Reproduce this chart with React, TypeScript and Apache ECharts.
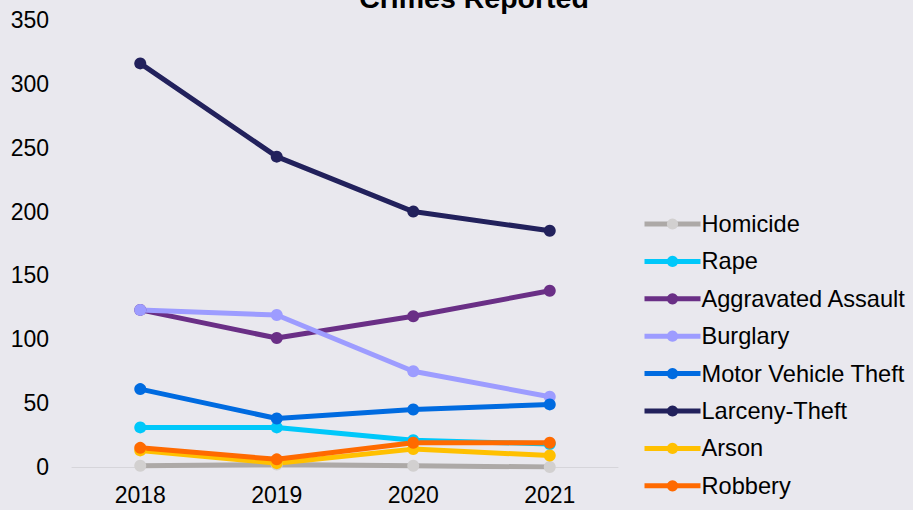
import React, { useEffect, useRef } from "react";
import * as echarts from "echarts";

const years = ["2018", "2019", "2020", "2021"];
const homicide = [1, 2, 1, 0];
const rape = [31, 31, 21, 18];
const aggravatedAssault = [123, 101, 118, 138];
const burglary = [123, 119, 75, 55];
const motorVehicleTheft = [61, 38, 45, 49];
const larcenyTheft = [316, 243, 200, 185];
const arson = [13, 3, 14, 9];
const robbery = [15, 6, 19, 19];

const FONT = "'Liberation Sans', Arial, sans-serif";

const seriesDefs = [
  { name: "Homicide", data: homicide, line: "#ADA9A7", dot: "#D2D0D0" },
  { name: "Rape", data: rape, line: "#00C8FA", dot: "#00C8FA" },
  { name: "Aggravated Assault", data: aggravatedAssault, line: "#6A2F86", dot: "#6A2F86" },
  { name: "Burglary", data: burglary, line: "#9D9CFF", dot: "#9D9CFF" },
  { name: "Motor Vehicle Theft", data: motorVehicleTheft, line: "#006BE0", dot: "#006BE0" },
  { name: "Larceny-Theft", data: larcenyTheft, line: "#22215C", dot: "#22215C" },
  { name: "Arson", data: arson, line: "#FFC000", dot: "#FFC000" },
  { name: "Robbery", data: robbery, line: "#FF6A00", dot: "#FF6A00" },
];

export default function App() {
  const ref = useRef<HTMLDivElement>(null);
  useEffect(() => {
    if (!ref.current) return;
    const chart = echarts.init(ref.current, undefined, { renderer: "svg" });
    chart.setOption({
      animation: false,
      backgroundColor: "#E9E8EE",
      textStyle: { fontFamily: FONT },
      graphic: [
        {
          type: "text",
          x: 474,
          y: -17,
          style: {
            text: "Crimes Reported",
            font: `bold 28.5px ${FONT}`,
            fill: "#000",
            textAlign: "center",
            textVerticalAlign: "top",
          },
        },
      ],
      grid: { left: 72, right: 295, top: 20, bottom: 43 },
      xAxis: {
        type: "category",
        data: years,
        boundaryGap: true,
        axisLine: { show: true, lineStyle: { color: "#D6D5DA", width: 1 } },
        axisTick: { show: false },
        axisLabel: { color: "#000", fontSize: 23, fontFamily: FONT, margin: 16 },
        splitLine: { show: false },
      },
      yAxis: {
        type: "value",
        min: 0,
        max: 350,
        interval: 50,
        axisLine: { show: false },
        axisTick: { show: false },
        splitLine: { show: false },
        axisLabel: { color: "#000", fontSize: 23, fontFamily: FONT, margin: 23 },
      },
      legend: {
        orient: "vertical",
        left: 642,
        top: 212,
        padding: 0,
        itemWidth: 56,
        itemHeight: 14,
        itemGap: 13.4,
        lineStyle: { width: 5 },
        textStyle: { color: "#000", fontSize: 23.6, fontFamily: FONT, lineHeight: 23, padding: [0, 0, 0, -4] },
        data: seriesDefs.map((s) => s.name),
      },
      series: seriesDefs.map((s) => ({
        name: s.name,
        type: "line",
        data: s.data,
        symbol: "circle",
        symbolSize: 12,
        lineStyle: { color: s.line, width: 5 },
        itemStyle: { color: s.dot },
        emphasis: { disabled: true },
      })),
    });
    return () => chart.dispose();
  }, []);
  return (
    <div
      ref={ref}
      style={{ position: "absolute", left: 0, top: 0, width: 913, height: 510 }}
    />
  );
}
